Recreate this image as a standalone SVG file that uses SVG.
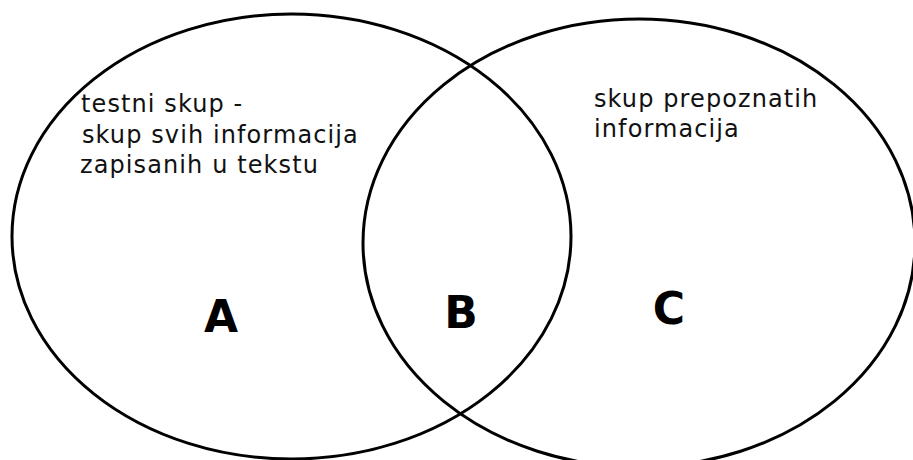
<svg xmlns="http://www.w3.org/2000/svg" width="913" height="460" viewBox="0 0 913 460">
<style>
.set{fill:none;stroke:#000;stroke-width:3}
.lbl{font-family:"DejaVu Sans",sans-serif;font-size:24px;letter-spacing:1.1px;fill:#111}
.big{font-family:"DejaVu Sans",sans-serif;font-size:44px;font-weight:bold;fill:#000;text-anchor:middle}
</style>
<rect width="913" height="460" fill="#fff"/>
<g id="setA">
<ellipse class="set" cx="291.5" cy="236.5" rx="279.5" ry="222.5"/>
<text class="lbl" x="81" y="112">testni skup -</text>
<text class="lbl" x="82" y="143">skup svih informacija</text>
<text class="lbl" x="80" y="173">zapisanih u tekstu</text>
<text class="big" x="221" y="332">A</text>
</g>
<g id="setC">
<ellipse class="set" cx="639" cy="243" rx="276" ry="224"/>
<text class="lbl" x="594" y="107">skup prepoznatih</text>
<text class="lbl" x="594" y="137">informacija</text>
<text class="big" x="669" y="324">C</text>
</g>
<g id="setB">
<text class="big" x="461" y="328">B</text>
</g>
<g id="connectors"></g>
</svg>
